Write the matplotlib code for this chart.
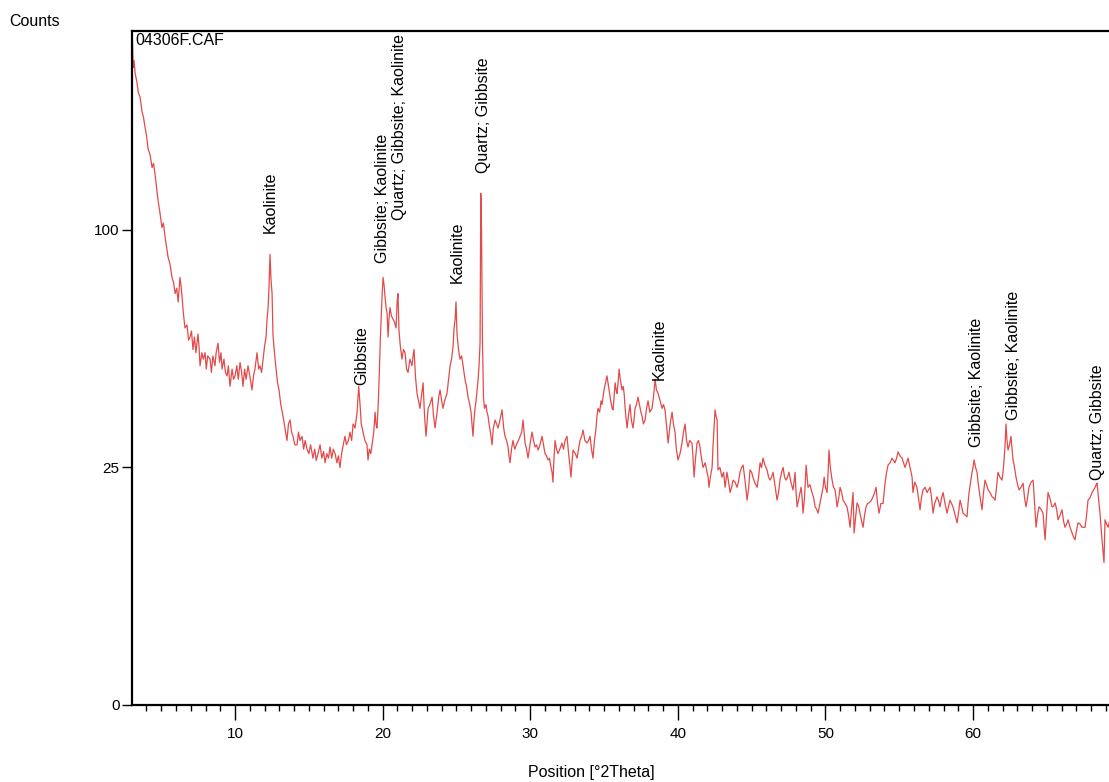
import matplotlib
matplotlib.use("Agg")
import matplotlib.pyplot as plt
import numpy as np
from matplotlib.ticker import MultipleLocator, FixedLocator

plt.rcParams['font.family'] = ['Liberation Sans', 'DejaVu Sans']

# ---- data: position [°2Theta] and counts ----
two_theta = [
    3.02, 3.10, 3.16, 3.23, 3.35, 3.45, 3.56, 3.70, 3.80, 3.90, 4.00, 4.11, 4.25, 4.38, 4.48, 4.58,
    4.68, 4.78, 4.90, 5.05, 5.15, 5.26, 5.36, 5.46, 5.60, 5.73, 5.84, 5.94, 6.05, 6.15, 6.27, 6.34,
    6.41, 6.50, 6.61, 6.75, 6.85, 6.95, 7.05, 7.15, 7.25, 7.35, 7.49, 7.56, 7.63, 7.75, 7.85, 7.97,
    8.05, 8.15, 8.31, 8.40, 8.50, 8.64, 8.72, 8.85, 8.95, 9.05, 9.12, 9.25, 9.35, 9.46, 9.55, 9.66,
    9.80, 9.90, 10.00, 10.12, 10.22, 10.34, 10.45, 10.54, 10.65, 10.75, 10.88, 11.00, 11.15, 11.25,
    11.35, 11.49, 11.60, 11.69, 11.80, 11.90, 12.00, 12.10, 12.17, 12.24, 12.30, 12.37, 12.44, 12.51,
    12.57, 12.65, 12.78, 12.88, 12.98, 13.10, 13.25, 13.38, 13.52, 13.62, 13.73, 13.83, 13.93, 14.05,
    14.20, 14.30, 14.40, 14.54, 14.65, 14.75, 14.88, 15.00, 15.12, 15.28, 15.40, 15.50, 15.62, 15.76,
    15.88, 16.00, 16.10, 16.22, 16.33, 16.44, 16.55, 16.66, 16.78, 16.90, 17.00, 17.11, 17.22, 17.33,
    17.45, 17.55, 17.68, 17.79, 17.90, 18.00, 18.13, 18.20, 18.27, 18.38, 18.47, 18.55, 18.67, 18.80,
    18.94, 19.01, 19.10, 19.20, 19.28, 19.40, 19.49, 19.55, 19.62, 19.70, 19.76, 19.85, 19.96, 20.03,
    20.10, 20.16, 20.23, 20.30, 20.37, 20.43, 20.50, 20.60, 20.70, 20.80, 20.91, 20.98, 21.04, 21.11,
    21.20, 21.31, 21.41, 21.52, 21.62, 21.72, 21.85, 21.99, 22.06, 22.13, 22.22, 22.33, 22.43, 22.53,
    22.62, 22.74, 22.84, 22.94, 23.00, 23.08, 23.20, 23.35, 23.45, 23.55, 23.62, 23.69, 23.80, 23.89,
    24.00, 24.09, 24.20, 24.36, 24.47, 24.57, 24.67, 24.77, 24.84, 24.91, 24.97, 25.04, 25.14, 25.24,
    25.35, 25.45, 25.58, 25.68, 25.79, 25.90, 25.99, 26.05, 26.12, 26.19, 26.26, 26.33, 26.40, 26.47,
    26.53, 26.60, 26.65, 26.70, 26.76, 26.83, 26.90, 27.00, 27.07, 27.14, 27.21, 27.30, 27.41, 27.50,
    27.62, 27.72, 27.82, 27.95, 28.09, 28.20, 28.29, 28.40, 28.50, 28.56, 28.63, 28.73, 28.83, 28.95,
    29.11, 29.20, 29.31, 29.42, 29.51, 29.58, 29.65, 29.75, 29.85, 29.98, 30.12, 30.22, 30.33, 30.43,
    30.53, 30.66, 30.80, 30.90, 31.00, 31.10, 31.21, 31.30, 31.41, 31.48, 31.54, 31.61, 31.68, 31.78,
    31.88, 32.00, 32.15, 32.25, 32.36, 32.49, 32.60, 32.70, 32.76, 32.83, 32.90, 33.05, 33.17, 33.27,
    33.37, 33.48, 33.58, 33.70, 33.85, 33.95, 34.05, 34.15, 34.25, 34.35, 34.46, 34.52, 34.59, 34.70,
    34.80, 34.86, 34.93, 35.00, 35.10, 35.20, 35.27, 35.34, 35.45, 35.55, 35.61, 35.68, 35.75, 35.82,
    35.88, 35.95, 36.02, 36.10, 36.22, 36.30, 36.36, 36.45, 36.56, 36.65, 36.76, 36.85, 36.96, 37.03,
    37.10, 37.20, 37.30, 37.40, 37.50, 37.57, 37.67, 37.78, 37.88, 37.98, 38.10, 38.25, 38.35, 38.46,
    38.55, 38.66, 38.80, 38.93, 39.03, 39.13, 39.25, 39.34, 39.45, 39.52, 39.61, 39.70, 39.81, 39.90,
    40.01, 40.15, 40.28, 40.38, 40.49, 40.59, 40.69, 40.80, 40.96, 41.03, 41.10, 41.20, 41.30, 41.40,
    41.50, 41.60, 41.71, 41.85, 41.98, 42.05, 42.11, 42.20, 42.32, 42.38, 42.45, 42.52, 42.59, 42.66,
    42.72, 42.85, 42.99, 43.10, 43.20, 43.33, 43.44, 43.54, 43.64, 43.74, 43.88, 44.01, 44.10, 44.21,
    44.32, 44.42, 44.55, 44.69, 44.80, 44.89, 45.00, 45.09, 45.20, 45.37, 45.47, 45.57, 45.67, 45.77,
    45.90, 46.04, 46.15, 46.25, 46.35, 46.45, 46.60, 46.72, 46.82, 46.92, 47.03, 47.13, 47.23, 47.33,
    47.43, 47.53, 47.66, 47.80, 47.87, 47.94, 48.01, 48.08, 48.20, 48.35, 48.42, 48.48, 48.58, 48.69,
    48.76, 48.82, 48.95, 49.09, 49.20, 49.30, 49.40, 49.50, 49.63, 49.77, 49.84, 49.91, 50.00, 50.11,
    50.18, 50.24, 50.33, 50.45, 50.55, 50.65, 50.72, 50.79, 50.90, 50.99, 51.10, 51.19, 51.33, 51.46,
    51.56, 51.67, 51.77, 51.87, 51.94, 52.02, 52.14, 52.25, 52.34, 52.45, 52.55, 52.65, 52.75, 52.85,
    52.95, 53.10, 53.22, 53.33, 53.43, 53.53, 53.63, 53.76, 53.90, 54.04, 54.14, 54.24, 54.38, 54.51,
    54.61, 54.71, 54.82, 54.92, 55.05, 55.19, 55.29, 55.39, 55.50, 55.60, 55.73, 55.87, 55.93, 56.05,
    56.20, 56.30, 56.41, 56.50, 56.61, 56.75, 56.88, 56.98, 57.09, 57.19, 57.29, 57.40, 57.56, 57.66,
    57.76, 57.87, 57.97, 58.10, 58.24, 58.34, 58.44, 58.54, 58.64, 58.78, 58.92, 59.02, 59.12, 59.22,
    59.32, 59.46, 59.59, 59.66, 59.73, 59.83, 59.93, 60.00, 60.07, 60.17, 60.27, 60.34, 60.41, 60.51,
    60.61, 60.71, 60.81, 60.92, 61.02, 61.15, 61.29, 61.39, 61.49, 61.59, 61.69, 61.82, 61.96, 62.03,
    62.10, 62.17, 62.23, 62.30, 62.37, 62.47, 62.57, 62.64, 62.71, 62.81, 62.91, 63.02, 63.12, 63.25,
    63.39, 63.49, 63.59, 63.69, 63.79, 63.93, 64.07, 64.17, 64.27, 64.37, 64.47, 64.60, 64.74, 64.81,
    64.88, 64.98, 65.08, 65.20, 65.35, 65.45, 65.56, 65.66, 65.76, 65.90, 66.03, 66.13, 66.23, 66.34,
    66.44, 66.57, 66.71, 66.81, 66.91, 67.01, 67.11, 67.25, 67.38, 67.48, 67.59, 67.69, 67.79, 67.92,
    68.06, 68.17, 68.27, 68.34, 68.40, 68.50, 68.60, 68.74, 68.87, 68.94, 69.05, 69.15, 69.25,
]

counts = [
    205, 180, 184, 177, 172, 166, 164, 156, 153, 148, 144, 137, 134, 128, 130, 125,
    119, 113, 108, 101, 103, 97, 93, 89, 86, 81, 79, 75, 77, 72, 81, 78,
    74, 68, 63, 64, 59, 60, 62, 56, 60, 55, 61, 57, 51, 55, 53, 55,
    50, 54, 53, 49, 54, 51, 55, 58, 52, 55, 50, 53, 49, 48, 51, 45,
    50, 47, 48, 51, 47, 52, 49, 45, 50, 47, 51, 48, 44, 48,
    50, 55, 50, 51, 49, 53, 57, 60, 66, 70, 77, 90, 80, 75,
    61, 56, 50, 46, 44, 40, 37, 34, 31, 35, 36, 33, 32, 30,
    30, 33, 31, 32, 29, 31, 29, 28, 30, 27, 29, 26.5, 28, 30,
    27, 28.5, 26, 28, 27, 29.5, 27, 29, 28, 26, 27.5, 25, 28, 30,
    32, 30, 31, 33, 31, 35, 34, 36, 38, 45, 40, 35, 33, 31,
    30, 26.6, 29, 28, 30, 33, 38, 35, 34, 40, 47, 60, 74, 81,
    78, 74, 70, 68, 60, 66, 70, 67, 66, 65, 63, 72, 75, 62,
    57, 53, 56, 55, 50, 49, 53, 51, 54, 56, 48, 43, 41, 39,
    42, 46, 37, 32, 35, 39, 40, 42, 37, 34, 36, 38, 42, 44,
    41, 39, 41, 43, 47, 51, 53, 57, 63, 66, 72, 61, 56, 53,
    54, 51, 47, 45, 42, 40, 38, 35, 32, 36, 39, 41, 44, 47,
    51, 58, 116, 100, 60, 42, 39, 40, 38, 37, 35, 33, 30, 34,
    36, 35, 34, 36, 38.6, 34, 32, 31, 29.5, 27.5, 26, 29, 31, 29,
    30.4, 31, 32, 33, 36, 33, 30.4, 29, 27, 30, 33, 31, 29.5, 30,
    28.8, 30, 32, 30, 28, 27.5, 26.6, 27, 25, 24, 22, 27, 31, 29,
    28, 29, 30.4, 29, 31, 32, 28, 25, 23, 26, 28.8, 28, 27, 29,
    31, 32, 33.5, 31, 30.4, 31, 32, 29, 27, 31, 34, 37, 39, 38,
    41, 40, 42, 44, 46, 48, 46, 44, 41, 39, 38.6, 42, 46, 44,
    43, 46, 50, 47, 44, 45, 43, 38, 34, 37, 40, 36, 34, 36,
    39, 40, 42, 40, 38, 37, 35, 36, 39, 41, 38, 39, 42, 47,
    44, 43, 41, 39, 40, 38.6, 34, 30.4, 34, 36, 38, 35, 33, 29,
    26.6, 28, 30.4, 33, 35, 31, 29.5, 31, 30.4, 27, 23, 27, 30.4, 31,
    29.5, 27, 25, 26, 24, 23, 21, 23, 25, 29.5, 34, 38.6, 37, 36,
    24.5, 25, 23, 24, 21, 24, 22, 20, 21, 22.4, 22, 21, 22, 24,
    25, 25.5, 22.4, 18.6, 21, 24.5, 24, 23, 22, 21, 23, 26, 25, 27,
    25.5, 24.5, 23, 22.4, 23, 24, 21, 18.6, 20, 22.4, 24, 25, 23, 22.4,
    23, 24, 22, 20.5, 22, 24, 20, 17.4, 19, 21, 19, 16.3, 19, 25.5,
    23, 21, 21.5, 20, 19, 17.4, 17, 16.3, 18, 20, 21, 23, 21, 20,
    24, 28.8, 25, 22.4, 21, 20.5, 19, 17.4, 19, 21, 20, 18.6, 18, 17.4,
    16, 14, 17, 20, 13.1, 15, 18.1, 17.5, 16.3, 15, 14, 16, 17.4, 18,
    18.1, 18.5, 19.2, 20, 21, 18, 16.3, 18, 18, 21.8, 24, 25.5, 26, 27,
    26.5, 26, 27, 28.4, 27.5, 27, 26, 25, 26, 27, 25, 23, 20, 22,
    21, 19, 16.9, 19, 20.5, 21, 20, 20.5, 21, 19, 16.3, 18, 19.2, 18.5,
    17.4, 19, 20, 18, 16.3, 17.5, 18.6, 18, 17.4, 16, 14.7, 16.5, 18.6, 17.5,
    16.3, 16, 15.7, 18, 20, 22, 24, 25, 26.6, 25, 24, 22, 20.5, 18.5,
    16.9, 20, 22.4, 21.5, 20.5, 20, 19.2, 19, 18.6, 21, 24, 23, 22.4, 24,
    26.6, 30, 35, 31, 28.8, 30, 32, 29, 26.6, 25, 23, 21.5, 20.5, 21,
    21.8, 19, 17.4, 19, 21, 22, 22.4, 18, 14, 16, 17.4, 17, 16.3, 14,
    12.1, 16, 20, 19, 17.4, 17.5, 18.1, 17, 15.2, 16, 16.9, 15, 14, 14.5,
    15.2, 14, 13.1, 12.5, 12.1, 13.5, 14.7, 14.5, 14, 14, 14, 16, 18.6, 19,
    20, 20.5, 21, 21.5, 21.8, 19, 16.3, 12, 9, 15.2, 14.5, 14, 15,
]

# ---- phase labels ----
label_text = ["Kaolinite", "Gibbsite", "Gibbsite; Kaolinite", "Quartz; Gibbsite; Kaolinite",
              "Kaolinite", "Quartz; Gibbsite", "Kaolinite", "Gibbsite; Kaolinite",
              "Gibbsite; Kaolinite", "Quartz; Gibbsite"]
label_pos = [12.40, 18.56, 19.99, 21.14, 25.07, 26.83, 38.76, 60.23, 62.74, 68.43]
label_y = [98.7, 45.4, 86.6, 104.3, 78.9, 125.4, 46.8, 29.5, 36.0, 22.4]

x_major = [10, 20, 30, 40, 50, 60, 70]
y_ticks = [0, 25, 100]

fig = plt.figure(figsize=(11.09, 7.82), dpi=100)
ax = fig.add_axes([132 / 1109, 77 / 782, 977 / 1109, 674 / 782])

ax.plot(two_theta, counts, color='#e34a4a', lw=0.9)

ax.set_yscale('function', functions=(lambda y: np.sqrt(np.clip(y, 0, None)), lambda y: np.asarray(y) ** 2))
ax.set_xlim(3.02, 69.21)
ax.set_ylim(0, 201.3)

ax.spines['right'].set_visible(False)
for s in ['left', 'bottom', 'top']:
    ax.spines[s].set_linewidth(1.6)

ax.xaxis.set_major_locator(FixedLocator(x_major))
ax.xaxis.set_minor_locator(MultipleLocator(1))
ax.yaxis.set_major_locator(FixedLocator(y_ticks))
ax.yaxis.set_minor_locator(FixedLocator([]))
ax.tick_params(axis='x', which='major', length=11, width=1, direction='out', labelsize=11, pad=5)
ax.tick_params(axis='x', which='minor', length=4.5, width=1, direction='out')
ax.tick_params(axis='y', which='major', length=7, width=1, direction='out', labelsize=11, pad=2)

for t, xp, yp in zip(label_text, label_pos, label_y):
    ax.text(xp, yp, t, rotation=90, ha='center', va='bottom', fontsize=11.5)

ax.text(0.003, 0.997, "04306F.CAF", transform=ax.transAxes, ha='left', va='top', fontsize=11.5)

fig.text(9 / 1109, 1 - 21 / 782, "Counts", ha='left', va='center', fontsize=11.5)
fig.text(591 / 1109, 1 - 773 / 782, "Position [°2Theta]", ha='center', va='center', fontsize=11.5)

fig.savefig("out.png", dpi=100)
